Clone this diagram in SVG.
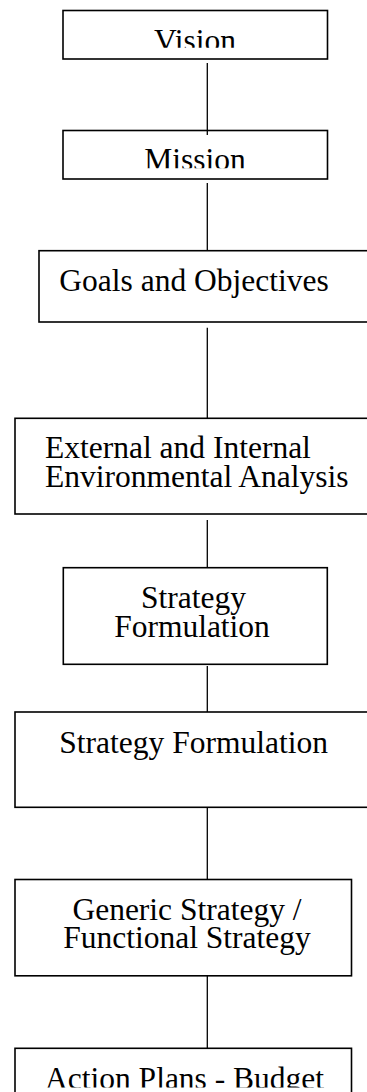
<svg xmlns="http://www.w3.org/2000/svg" width="367" height="1092" viewBox="0 0 367 1092">
<style>
.box{fill:#fff;stroke:#000;stroke-width:1.6}
.t{font-family:"Liberation Serif","Times New Roman",serif;font-size:31.5px;fill:#000}
.m{text-anchor:middle}
.conn line{stroke:#000;stroke-width:1.3}
</style>
<defs>
<clipPath id="cV"><rect x="63" y="10" width="265" height="37.7"/></clipPath>
<clipPath id="cM"><rect x="63" y="130" width="265" height="38.3"/></clipPath>
<clipPath id="cA"><rect x="15" y="1048" width="337" height="39.5"/></clipPath>
</defs>
<rect width="367" height="1092" fill="#fff"/>
<g id="vision">
<rect class="box" x="63" y="10.5" width="264.5" height="48.5"/>
<text class="t m" x="195" y="51" clip-path="url(#cV)">Vision</text>
</g>
<g id="mission">
<rect class="box" x="63" y="130.5" width="264.5" height="48.5"/>
<text class="t m" x="195" y="170.3" clip-path="url(#cM)">Mission</text>
</g>
<g id="goals">
<rect class="box" x="39" y="250.7" width="340" height="71.3"/>
<text class="t" x="59.3" y="290.7">Goals and Objectives</text>
</g>
<g id="analysis">
<rect class="box" x="15" y="418.3" width="364" height="95.7"/>
<text class="t" x="45" y="458.3">External and Internal</text>
<text class="t" x="45" y="486.7">Environmental Analysis</text>
</g>
<g id="strategy1">
<rect class="box" x="63.3" y="567.7" width="264" height="96.6"/>
<text class="t m" x="193.5" y="608">Strategy</text>
<text class="t m" x="192" y="636.5">Formulation</text>
</g>
<g id="strategy2">
<rect class="box" x="15" y="712" width="364" height="95.3"/>
<text class="t" x="59.3" y="752.7">Strategy Formulation</text>
</g>
<g id="generic">
<rect class="box" x="15" y="879.5" width="336.5" height="96.3"/>
<text class="t m" x="187" y="920">Generic Strategy /</text>
<text class="t m" x="187" y="948.3">Functional Strategy</text>
</g>
<g id="action">
<rect class="box" x="15" y="1048.3" width="336.5" height="60"/>
<text class="t" x="45" y="1088.5" clip-path="url(#cA)">Action Plans - Budget</text>
</g>
<g id="connectors" class="conn">
<line x1="207.3" y1="63" x2="207.3" y2="135"/>
<line x1="207.3" y1="183" x2="207.3" y2="250.7"/>
<line x1="207.3" y1="327.7" x2="207.3" y2="418.3"/>
<line x1="207.3" y1="520" x2="207.3" y2="567.7"/>
<line x1="207.3" y1="666" x2="207.3" y2="712"/>
<line x1="207.3" y1="807.3" x2="207.3" y2="879.5"/>
<line x1="207.3" y1="975.8" x2="207.3" y2="1048.3"/>
</g>
</svg>
